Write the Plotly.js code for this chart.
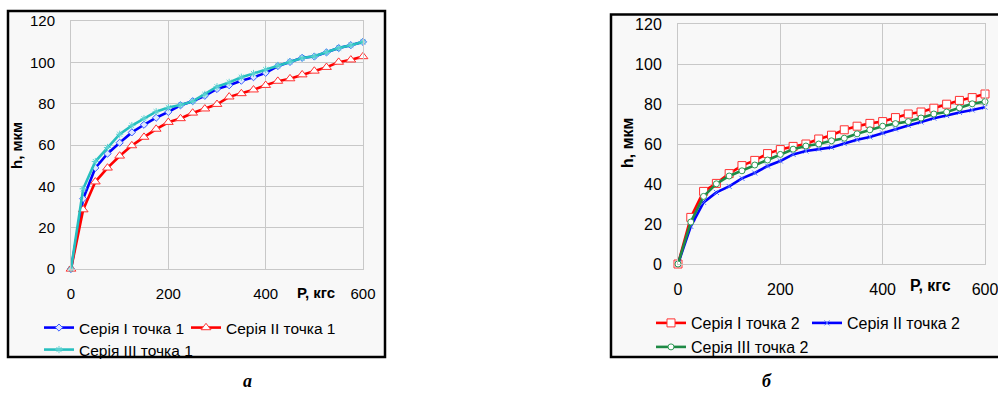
<!DOCTYPE html>
<html>
<head>
<meta charset="utf-8">
<script src="https://cdn.plot.ly/plotly-3.0.1.min.js"></script>
<style>html,body{margin:0;padding:0;background:#fff;}#chart{width:998px;height:394px;}</style>
</head>
<body>
<div id="chart"></div>
<script>
// Load P, kgf (shared x values)
var P = [0, 25, 50, 75, 100, 125, 150, 175, 200, 225, 250, 275, 300, 325, 350, 375, 400, 425, 450, 475, 500, 525, 550, 575, 600];

// Chart а: h, мкм, point 1
var a_series1 = [0, 34.0, 48.9, 55.8, 61.1, 66.1, 69.8, 73.2, 76.0, 79.2, 81.2, 83.8, 87.1, 88.9, 91.1, 92.8, 94.9, 98.2, 100.2, 102.2, 102.8, 104.8, 106.9, 108.3, 109.9];
var a_series2 = [0, 28.7, 42.2, 48.9, 54.7, 59.7, 63.8, 67.7, 71.0, 72.8, 75.5, 77.5, 79.7, 83.3, 84.9, 86.7, 88.9, 90.9, 92.1, 94.0, 95.8, 97.6, 100.1, 101.2, 102.8];
var a_series3 = [0, 38.8, 52.0, 58.8, 65.2, 69.4, 72.7, 76.1, 78.1, 79.4, 81.1, 84.5, 88.2, 90.3, 92.8, 94.6, 96.5, 98.5, 100.3, 102.1, 102.9, 104.8, 106.9, 108.3, 109.9];

// Chart б: h, мкм, point 2
var b_series1 = [0, 23.3, 36.3, 40.3, 45.2, 49.2, 51.8, 55.2, 57.2, 58.8, 60.0, 62.5, 64.4, 67.1, 68.9, 70.3, 71.2, 73.2, 75.0, 76.0, 77.9, 79.9, 81.8, 83.2, 85.0];
var b_series2 = [0, 18.8, 30.8, 35.8, 38.8, 42.8, 45.5, 49.0, 51.5, 54.8, 56.5, 57.5, 58.3, 60.2, 62.1, 63.5, 65.5, 67.5, 69.3, 71.0, 72.9, 74.2, 75.8, 77.0, 78.4];
var b_series3 = [0, 21.0, 33.8, 40.1, 44.0, 46.6, 49.5, 52.0, 54.8, 57.4, 59.0, 60.0, 61.6, 62.9, 65.1, 67.1, 68.9, 70.2, 71.2, 73.0, 75.0, 76.0, 78.1, 80.1, 81.2];

var names_a = ['Серія І точка 1', 'Серія ІІ точка 1', 'Серія ІІІ точка 1'];
var names_b = ['Серія І точка 2', 'Серія ІІ точка 2', 'Серія ІІІ точка 2'];
var xTicks = [0, 200, 400, 600];
var yTicks = [0, 20, 40, 60, 80, 100, 120];

var W = 998, H = 394;
function px(v) { return v / W; }
function py(v) { return 1 - v / H; }

var FONT = 'Liberation Sans, Arial, sans-serif';

function tr(x, y, name, color, sym, msize, xa, ya, leg, mfill, mline) {
  return {
    x: x, y: y, name: name, type: 'scatter', mode: 'lines+markers',
    xaxis: xa, yaxis: ya, legend: leg, cliponaxis: false,
    line: {color: color, width: 2.6, dash: 'solid', shape: 'linear'},
    marker: {symbol: sym, size: msize, color: mfill, line: {color: mline, width: 1}},
    hoverinfo: 'skip'
  };
}

var data = [
  tr(P, a_series1, names_a[0], '#0000ff', 'diamond', 5.5, 'x', 'y', 'legend', '#dfe6ff', '#3a5cff'),
  tr(P, a_series2, names_a[1], '#ff0000', 'triangle-up', 8.5, 'x', 'y', 'legend2', '#ffffff', '#ff3030'),
  tr(P, a_series3, names_a[2], '#26bfbf', 'asterisk', 6, 'x', 'y', 'legend3', '#5fd3d3', '#5fd3d3'),
  tr(P, b_series1, names_b[0], '#ff0000', 'square', 8, 'x2', 'y2', 'legend4', '#ffffff', '#ff3030'),
  tr(P, b_series2, names_b[1], '#0000ff', 'x-thin', 5, 'x2', 'y2', 'legend5', '#4f6fff', '#4f6fff'),
  tr(P, b_series3, names_b[2], '#1e8a45', 'circle', 6, 'x2', 'y2', 'legend6', '#ffffff', '#2f9a55')
];

function xax(dom, anchor, fs) {
  return {
    domain: dom, anchor: anchor, range: [0, 600], tickvals: xTicks, ticktext: xTicks.map(String),
    showgrid: true, gridcolor: '#c8c8c8', gridwidth: 1, zeroline: false,
    showline: true, linecolor: '#c8c8c8', linewidth: 1, mirror: true,
    ticks: 'outside', ticklen: 11, tickcolor: 'rgba(0,0,0,0)', ticklabeloverflow: 'allow',
    tickfont: {family: FONT, size: fs, color: '#000'}, fixedrange: true
  };
}
function yax(dom, anchor, fs) {
  return {
    domain: dom, anchor: anchor, range: [0, 120], tickvals: yTicks, ticktext: yTicks.map(String),
    showgrid: true, gridcolor: '#c8c8c8', gridwidth: 1, zeroline: false,
    showline: true, linecolor: '#c8c8c8', linewidth: 1, mirror: true,
    ticks: 'outside', ticklen: 12, tickcolor: 'rgba(0,0,0,0)', ticklabeloverflow: 'allow',
    tickfont: {family: FONT, size: fs, color: '#000'}, fixedrange: true
  };
}

function leg(xl, yc, fs) {
  return {
    x: px(xl), y: py(yc), xanchor: 'left', yanchor: 'middle', xref: 'paper', yref: 'paper',
    bgcolor: 'rgba(0,0,0,0)', borderwidth: 0, itemwidth: 30,
    font: {family: FONT, size: fs, color: '#000'}, orientation: 'v', tracegroupgap: 0
  };
}

function ann(text, x, y, opts) {
  var o = {text: text, x: px(x), y: py(y), xref: 'paper', yref: 'paper', showarrow: false,
    xanchor: 'center', yanchor: 'middle', font: {family: FONT, size: 15, color: '#000'}};
  for (var k in opts) o[k] = opts[k];
  return o;
}

var layout = {
  width: W, height: H,
  margin: {l: 0, r: 0, t: 0, b: 0, pad: 0},
  paper_bgcolor: '#ffffff', plot_bgcolor: '#f8f8f8',
  showlegend: true,
  xaxis: xax([px(71), px(363)], 'y', 15),
  yaxis: yax([py(269), py(21)], 'x', 15),
  xaxis2: xax([px(678), px(985)], 'y2', 16),
  yaxis2: yax([py(264), py(24)], 'x2', 16),
  legend: leg(39, 328, 15.5),
  legend2: leg(186, 328, 15.5),
  legend3: leg(39, 350, 15.5),
  legend4: leg(651, 323, 16),
  legend5: leg(807, 323, 16),
  legend6: leg(651, 347, 16),
  shapes: [
    {type: 'rect', xref: 'paper', yref: 'paper', x0: px(8), x1: px(385), y0: py(357), y1: py(11),
      line: {color: '#000', width: 2.5}, fillcolor: '#f8f8f8', layer: 'below'},
    {type: 'rect', xref: 'paper', yref: 'paper', x0: px(611), x1: px(1000), y0: py(357), y1: py(14.5),
      line: {color: '#000', width: 2.5}, fillcolor: '#f8f8f8', layer: 'below'}
  ],
  annotations: [
    ann('<b>h, мкм</b>', 16, 145, {textangle: -90, font: {family: FONT, size: 15, color: '#000'}}),
    ann('<b>Р, кгс</b>', 316, 292, {font: {family: FONT, size: 15, color: '#000'}}),
    ann('<b>h, мкм</b>', 628, 143, {textangle: -90, font: {family: FONT, size: 16, color: '#000'}}),
    ann('<b>Р, кгс</b>', 930, 285, {font: {family: FONT, size: 16, color: '#000'}}),
    ann('<b><i>а</i></b>', 247, 381, {font: {family: 'Liberation Serif, Times New Roman, serif', size: 18, color: '#000'}}),
    ann('<b><i>б</i></b>', 767, 381, {font: {family: 'Liberation Serif, Times New Roman, serif', size: 18, color: '#000'}})
  ]
};

Plotly.newPlot('chart', data, layout, {staticPlot: true, displayModeBar: false});
</script>
</body>
</html>
